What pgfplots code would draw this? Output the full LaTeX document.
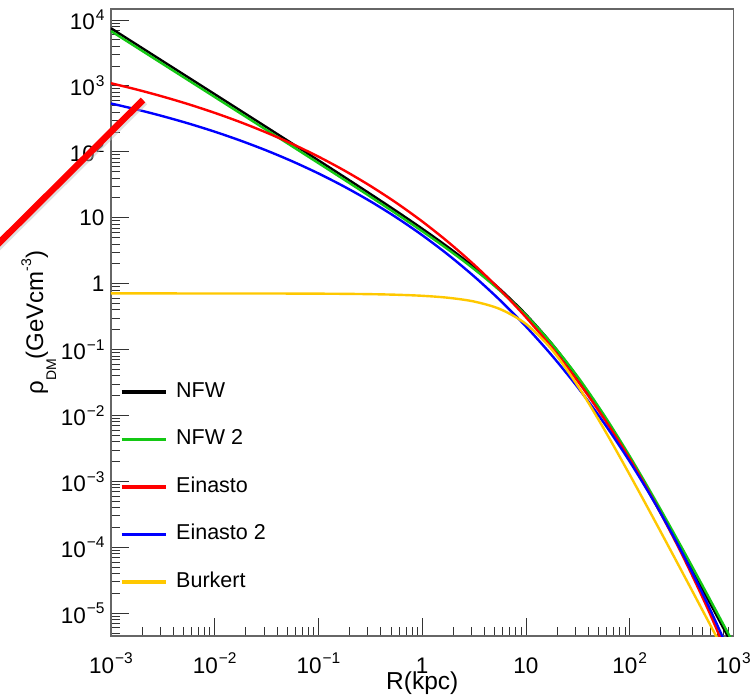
\documentclass[border=0pt]{standalone}
\usepackage{fontspec}
\setmainfont{Liberation Sans}
\usepackage{pgfplots}
\pgfplotsset{compat=1.18}
\usepackage{pgfplotstable}
\usetikzlibrary{calc}
\definecolor{rgreen}{RGB}{20,200,20}
\definecolor{ryellow}{RGB}{255,200,0}
\newcommand\tl[1]{{\fontsize{22.5}{26}\selectfont #1}}
\newcommand\sups[1]{\kern1pt\raisebox{9.5pt}{\fontsize{15.5}{16}\selectfont #1}}

\pgfplotstableread{
r nfw nfw2 ein ein2 bur
0.001 7494 6799 1099 541.9 0.71194
0.0017783 4213 3823 880.0 438.5 0.71190
0.0031623 2368 2149 688.9 347.2 0.71182
0.0056234 1332 1208 526.0 268.5 0.71168
0.01 748.8 679.2 390.4 202.2 0.71144
0.017783 420.7 381.7 281.2 147.8 0.71100
0.031623 236.3 214.4 195.7 104.7 0.71023
0.056234 132.6 120.3 131.3 71.56 0.70884
0.1 74.2 67.43 84.53 47.03 0.70638
0.17783 41.42 37.65 52.02 29.61 0.70201
0.31623 22.98 20.92 30.44 17.78 0.69423
0.56234 12.63 11.52 16.86 10.12 0.68040
1 6.82 6.249 8.790 5.443 0.65583
1.7783 3.573 3.298 4.285 2.745 0.61230
3.1623 1.783 1.665 1.941 1.290 0.53638
5.6234 0.824 0.7832 0.8101 0.5613 0.41197
10 0.3405 0.3320 0.3092 0.2241 0.24519
17.783 0.1220 0.1225 0.1068 0.08143 0.09974
31.623 0.03711 0.03851 0.03311 0.02667 0.02817
56.234 0.00965 0.01031 0.009094 0.007786 0.006325
100 0.002204 0.002411 0.002187 0.002002 0.001265
177.83 0.000458 0.000509 0.0004545 0.0004482 0.0002392
316.23 0.0000895 0.0001004 0.00008034 0.00008597 0.00004396
562.34 0.0000168 0.00001898 0.00001188 0.00001391 0.00000796
1000 0.00000308 0.0000035 0.000001444 0.000001867 0.00000143
}\profiles

\begin{document}
\begin{tikzpicture}
\begin{axis}[
  name=ax,
  scale only axis, width=622.5pt, height=627pt,
  xmode=log, ymode=log,
  xmin=1e-3, xmax=1e3, ymin=4.53e-6, ymax=1.469e4,
  axis line style={black!60, line width=1.5pt},
  tick align=inside, xtick pos=left, ytick pos=left,
  major tick length=18pt, minor tick length=9.5pt,
  every tick/.style={black!80, line width=1pt},
  xtick={1e-3,1e-2,0.1,1,10,100,1000},
  xticklabels={\tl{10\sups{−3}},\tl{10\sups{−2}},\tl{10\sups{−1}},\tl{1},\tl{10},\tl{10\sups{2}},\tl{10\sups{3}}},
  minor xtick={2e-3,3e-3,4e-3,5e-3,6e-3,7e-3,8e-3,9e-3,
    2e-2,3e-2,4e-2,5e-2,6e-2,7e-2,8e-2,9e-2,
    0.2,0.3,0.4,0.5,0.6,0.7,0.8,0.9,
    2,3,4,5,6,7,8,9,
    20,30,40,50,60,70,80,90,
    200,300,400,500,600,700,800,900},
  ytick={1e-5,1e-4,1e-3,1e-2,1e-1,1,10,100,1000,10000},
  yticklabels={\tl{10\sups{−5}},\tl{10\sups{−4}},\tl{10\sups{−3}},\tl{10\sups{−2}},\tl{10\sups{−1}},\tl{1},\tl{10},\tl{10\sups{2}},\tl{10\sups{3}},\tl{10\sups{4}}},
  minor ytick={5e-6,6e-6,7e-6,8e-6,9e-6,
    2e-5,3e-5,4e-5,5e-5,6e-5,7e-5,8e-5,9e-5,
    2e-4,3e-4,4e-4,5e-4,6e-4,7e-4,8e-4,9e-4,
    2e-3,3e-3,4e-3,5e-3,6e-3,7e-3,8e-3,9e-3,
    2e-2,3e-2,4e-2,5e-2,6e-2,7e-2,8e-2,9e-2,
    0.2,0.3,0.4,0.5,0.6,0.7,0.8,0.9,
    2,3,4,5,6,7,8,9,
    20,30,40,50,60,70,80,90,
    200,300,400,500,600,700,800,900,
    2000,3000,4000,5000,6000,7000,8000,9000},
  tick label style={font=\fontsize{22.5}{26}\selectfont},
  xticklabel style={anchor=base, yshift=-37pt},
  yticklabel style={xshift=-3pt},
  xlabel={R(kpc)},
  xlabel style={font=\fontsize{24.5}{28}\selectfont, at={(axis description cs:0.5,0)}, anchor=base, yshift=-53pt},
  ylabel={ρ\raisebox{-13pt}{\fontsize{14}{14}\selectfont DM}(GeVcm\raisebox{12pt}{\fontsize{14}{14}\selectfont -3})},
  ylabel style={font=\fontsize{24}{28}\selectfont, at={(axis description cs:-0.1092,0.5)}, anchor=base},
  legend style={at={(0.0145,0.405)}, anchor=north west, draw=none, fill=none,
    inner sep=0pt, outer sep=0pt, row sep=27.5pt, column sep=9pt,
    font=\fontsize{21.5}{26}\selectfont,
    nodes={inner sep=0pt, text height=15pt, text depth=5pt}},
  legend cell align=left,
  legend image code/.code={\draw[#1, line width=3.2pt] (0pt,0pt) -- (44pt,0pt);},
]
\addplot[black, line width=2.4pt, smooth] table[x=r,y=nfw]{\profiles};
\addlegendentry{NFW}
\addplot[rgreen, line width=2.4pt, smooth] table[x=r,y=nfw2]{\profiles};
\addlegendentry{NFW 2}
\addplot[red, line width=2.4pt, smooth] table[x=r,y=ein]{\profiles};
\addlegendentry{Einasto}
\addplot[blue, line width=2.4pt, smooth] table[x=r,y=ein2]{\profiles};
\addlegendentry{Einasto 2}
\addplot[ryellow, line width=2.4pt, smooth] table[x=r,y=bur]{\profiles};
\addlegendentry{Burkert}
\end{axis}
\draw[line width=7.5pt, black!25, opacity=0.5] ($(ax.south west)+(33.5pt,534.5pt)$) -- ($(ax.south west)+(-114.5pt,387.5pt)$);
\draw[line width=6.5pt, red] ($(ax.south west)+(32pt,536pt)$) -- ($(ax.south west)+(-116pt,389pt)$);
\pgfresetboundingbox
\path[use as bounding box] ($(ax.south west)+(-111pt,-58pt)$) rectangle ($(ax.north east)+(18.5pt,9pt)$);
\end{tikzpicture}
\end{document}
